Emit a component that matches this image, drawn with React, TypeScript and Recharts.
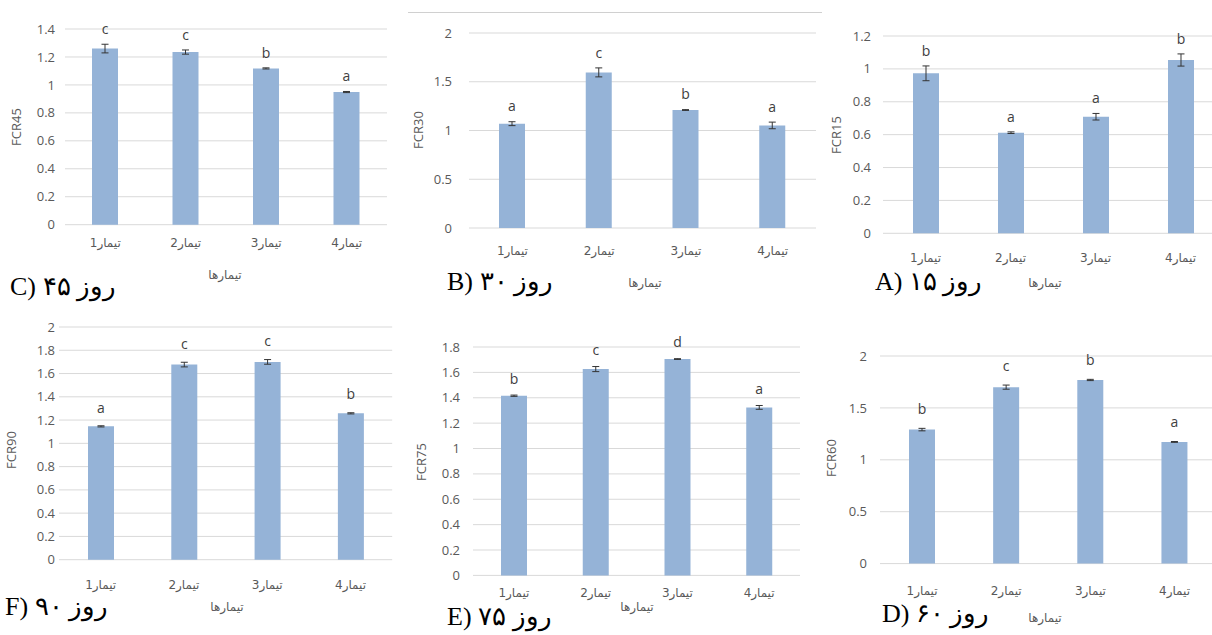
import React from "react";
import { BarChart, Bar, XAxis, YAxis, CartesianGrid, ErrorBar, LabelList } from "recharts";

const treatments = ["تیمار1", "تیمار2", "تیمار3", "تیمار4"];

const fcr45 = [1.26, 1.235, 1.118, 0.949];
const err45 = [0.031, 0.015, 0.004, 0.004];
const let45 = ["c", "c", "b", "a"];

const fcr30 = [1.07, 1.596, 1.21, 1.052];
const err30 = [0.02, 0.046, 0.004, 0.034];
const let30 = ["a", "c", "b", "a"];

const fcr15 = [0.973, 0.612, 0.709, 1.054];
const err15 = [0.045, 0.005, 0.02, 0.037];
const let15 = ["b", "a", "a", "b"];

const fcr90 = [1.146, 1.677, 1.7, 1.258];
const err90 = [0.005, 0.02, 0.02, 0.005];
const let90 = ["a", "c", "c", "b"];

const fcr75 = [1.416, 1.626, 1.705, 1.324];
const err75 = [0.005, 0.02, 0.003, 0.015];
const let75 = ["b", "c", "d", "a"];

const fcr60 = [1.291, 1.7, 1.769, 1.172];
const err60 = [0.012, 0.02, 0.006, 0.004];
const let60 = ["b", "c", "b", "a"];

const ticks45 = [0, 0.2, 0.4, 0.6, 0.8, 1, 1.2, 1.4];
const ticks30 = [0, 0.5, 1, 1.5, 2];
const ticks15 = [0, 0.2, 0.4, 0.6, 0.8, 1, 1.2];
const ticks90 = [0, 0.2, 0.4, 0.6, 0.8, 1, 1.2, 1.4, 1.6, 1.8, 2];
const ticks75 = [0, 0.2, 0.4, 0.6, 0.8, 1, 1.2, 1.4, 1.6, 1.8];
const ticks60 = [0, 0.5, 1, 1.5, 2];

const BAR = "#95B3D7";
const GRID = "#D9D9D9";
const TXT = "#595959";

type PanelProps = {
  x0: number; x1: number; yTop: number; yBottom: number; max: number;
  ticks: number[]; values: number[]; errs: number[]; letters: string[];
  yGap: number; xGap: number; letterOff: number;
};

function Panel(p: PanelProps) {
  const data = treatments.map((t, i) => ({ name: t, v: p.values[i], err: p.errs[i], letter: p.letters[i] }));
  const left = p.x0 - 60;
  const top = p.yTop - 30;
  const width = p.x1 - p.x0 + 70;
  const height = p.yBottom - p.yTop + 70;
  const pxPerUnit = (p.yBottom - p.yTop) / p.max;
  const renderLetter = (lp: any) => {
    const { x, y, width: w, index } = lp;
    const cx = Number(x) + Number(w) / 2;
    const cy = Number(y) - p.errs[index] * pxPerUnit - p.letterOff;
    return (
      <text x={cx} y={cy} textAnchor="middle" dominantBaseline="middle" fontSize={14} fill="#404040" fontFamily="'Open Sans', sans-serif">
        {p.letters[index]}
      </text>
    );
  };
  return (
    <div style={{ position: "absolute", left, top }}>
      <BarChart width={width} height={height} data={data} margin={{ top: 30, right: 10, bottom: 0, left: 0 }}>
        <CartesianGrid vertical={false} stroke={GRID} strokeWidth={1} />
        <XAxis dataKey="name" height={40} axisLine={false} tickLine={false} tickSize={0} tickMargin={p.xGap}
          tick={{ fontSize: 12, fill: TXT, fontFamily: "'DejaVu Sans', sans-serif" }} interval={0} />
        <YAxis width={60} domain={[0, p.max]} ticks={p.ticks} axisLine={false} tickLine={false} tickSize={0} tickMargin={p.yGap}
          tickFormatter={(v: number) => String(Number(v.toFixed(1)))}
          tick={{ fontSize: 13, fill: TXT, fontFamily: "'Open Sans', sans-serif" }} interval={0} />
        <Bar dataKey="v" fill={BAR} barSize={26} isAnimationActive={false}>
          <ErrorBar dataKey="err" direction="y" width={3.5} stroke="#333" strokeWidth={1} />
          <LabelList dataKey="letter" content={renderLetter} />
        </Bar>
      </BarChart>
    </div>
  );
}

const captions = [
  { x: 10, y: 295, text: "C) ۴۵ روز" },
  { x: 447, y: 290, text: "B) ۳۰ روز" },
  { x: 875, y: 290, text: "A) ۱۵ روز" },
  { x: 5, y: 615, text: "F) ۹۰ روز" },
  { x: 447, y: 625, text: "E) ۷۵ روز" },
  { x: 882, y: 622, text: "D) ۶۰ روز" },
];
const xTitles = [
  { x: 225, y: 275 }, { x: 645, y: 283 }, { x: 1045, y: 283 },
  { x: 227, y: 607 }, { x: 637, y: 607 }, { x: 1045, y: 618 },
];
const yTitles = [
  { x: 18, y: 127, text: "FCR45" }, { x: 420, y: 130, text: "FCR30" }, { x: 838, y: 135, text: "FCR15" },
  { x: 13, y: 450, text: "FCR90" }, { x: 423, y: 462, text: "FCR75" }, { x: 833, y: 458, text: "FCR60" },
];

export default function App() {
  return (
    <div style={{ position: "fixed", left: 0, top: 0, width: 1212, height: 635, overflow: "hidden", background: "#fff" }}>
      <div style={{ position: "absolute", left: 408, top: 12, width: 414, height: 1, background: "#D0D0D0" }} />
      <Panel x0={65} x1={387} yTop={29.3} yBottom={225} max={1.4} ticks={ticks45} values={fcr45} errs={err45} letters={let45} yGap={10} xGap={14} letterOff={14} />
      <Panel x0={469} x1={816} yTop={33.3} yBottom={228.3} max={2} ticks={ticks30} values={fcr30} errs={err30} letters={let30} yGap={17} xGap={18} letterOff={14} />
      <Panel x0={882.5} x1={1222.5} yTop={36} yBottom={233.3} max={1.2} ticks={ticks15} values={fcr15} errs={err15} letters={let15} yGap={12} xGap={20} letterOff={14} />
      <Panel x0={58.5} x1={391.7} yTop={327.3} yBottom={560} max={2} ticks={ticks90} values={fcr90} errs={err90} letters={let90} yGap={4} xGap={21} letterOff={17} />
      <Panel x0={473} x1={800} yTop={347.3} yBottom={575.7} max={1.8} ticks={ticks75} values={fcr75} errs={err75} letters={let75} yGap={13} xGap={13} letterOff={15} />
      <Panel x0={880.4} x1={1217} yTop={355.7} yBottom={563.3} max={2} ticks={ticks60} values={fcr60} errs={err60} letters={let60} yGap={13} xGap={23} letterOff={18} />
      <svg width={1212} height={635} style={{ position: "absolute", left: 0, top: 0, pointerEvents: "none" }}>
        {captions.map((c, i) => (
          <text key={"c" + i} x={c.x} y={c.y} fontSize={26} fill="#000" direction="ltr"
            fontFamily="'Liberation Serif', 'DejaVu Serif', serif">{c.text}</text>
        ))}
        {xTitles.map((t, i) => (
          <text key={"x" + i} x={t.x} y={t.y} fontSize={12} fill={TXT} textAnchor="middle" dominantBaseline="middle"
            fontFamily="'DejaVu Sans', sans-serif">تیمارها</text>
        ))}
        {yTitles.map((t, i) => (
          <text key={"y" + i} x={t.x} y={t.y} fontSize={13} fill={TXT} textAnchor="middle" dominantBaseline="middle"
            transform={`rotate(-90 ${t.x} ${t.y})`} fontFamily="'Open Sans', sans-serif">{t.text}</text>
        ))}
      </svg>
    </div>
  );
}
